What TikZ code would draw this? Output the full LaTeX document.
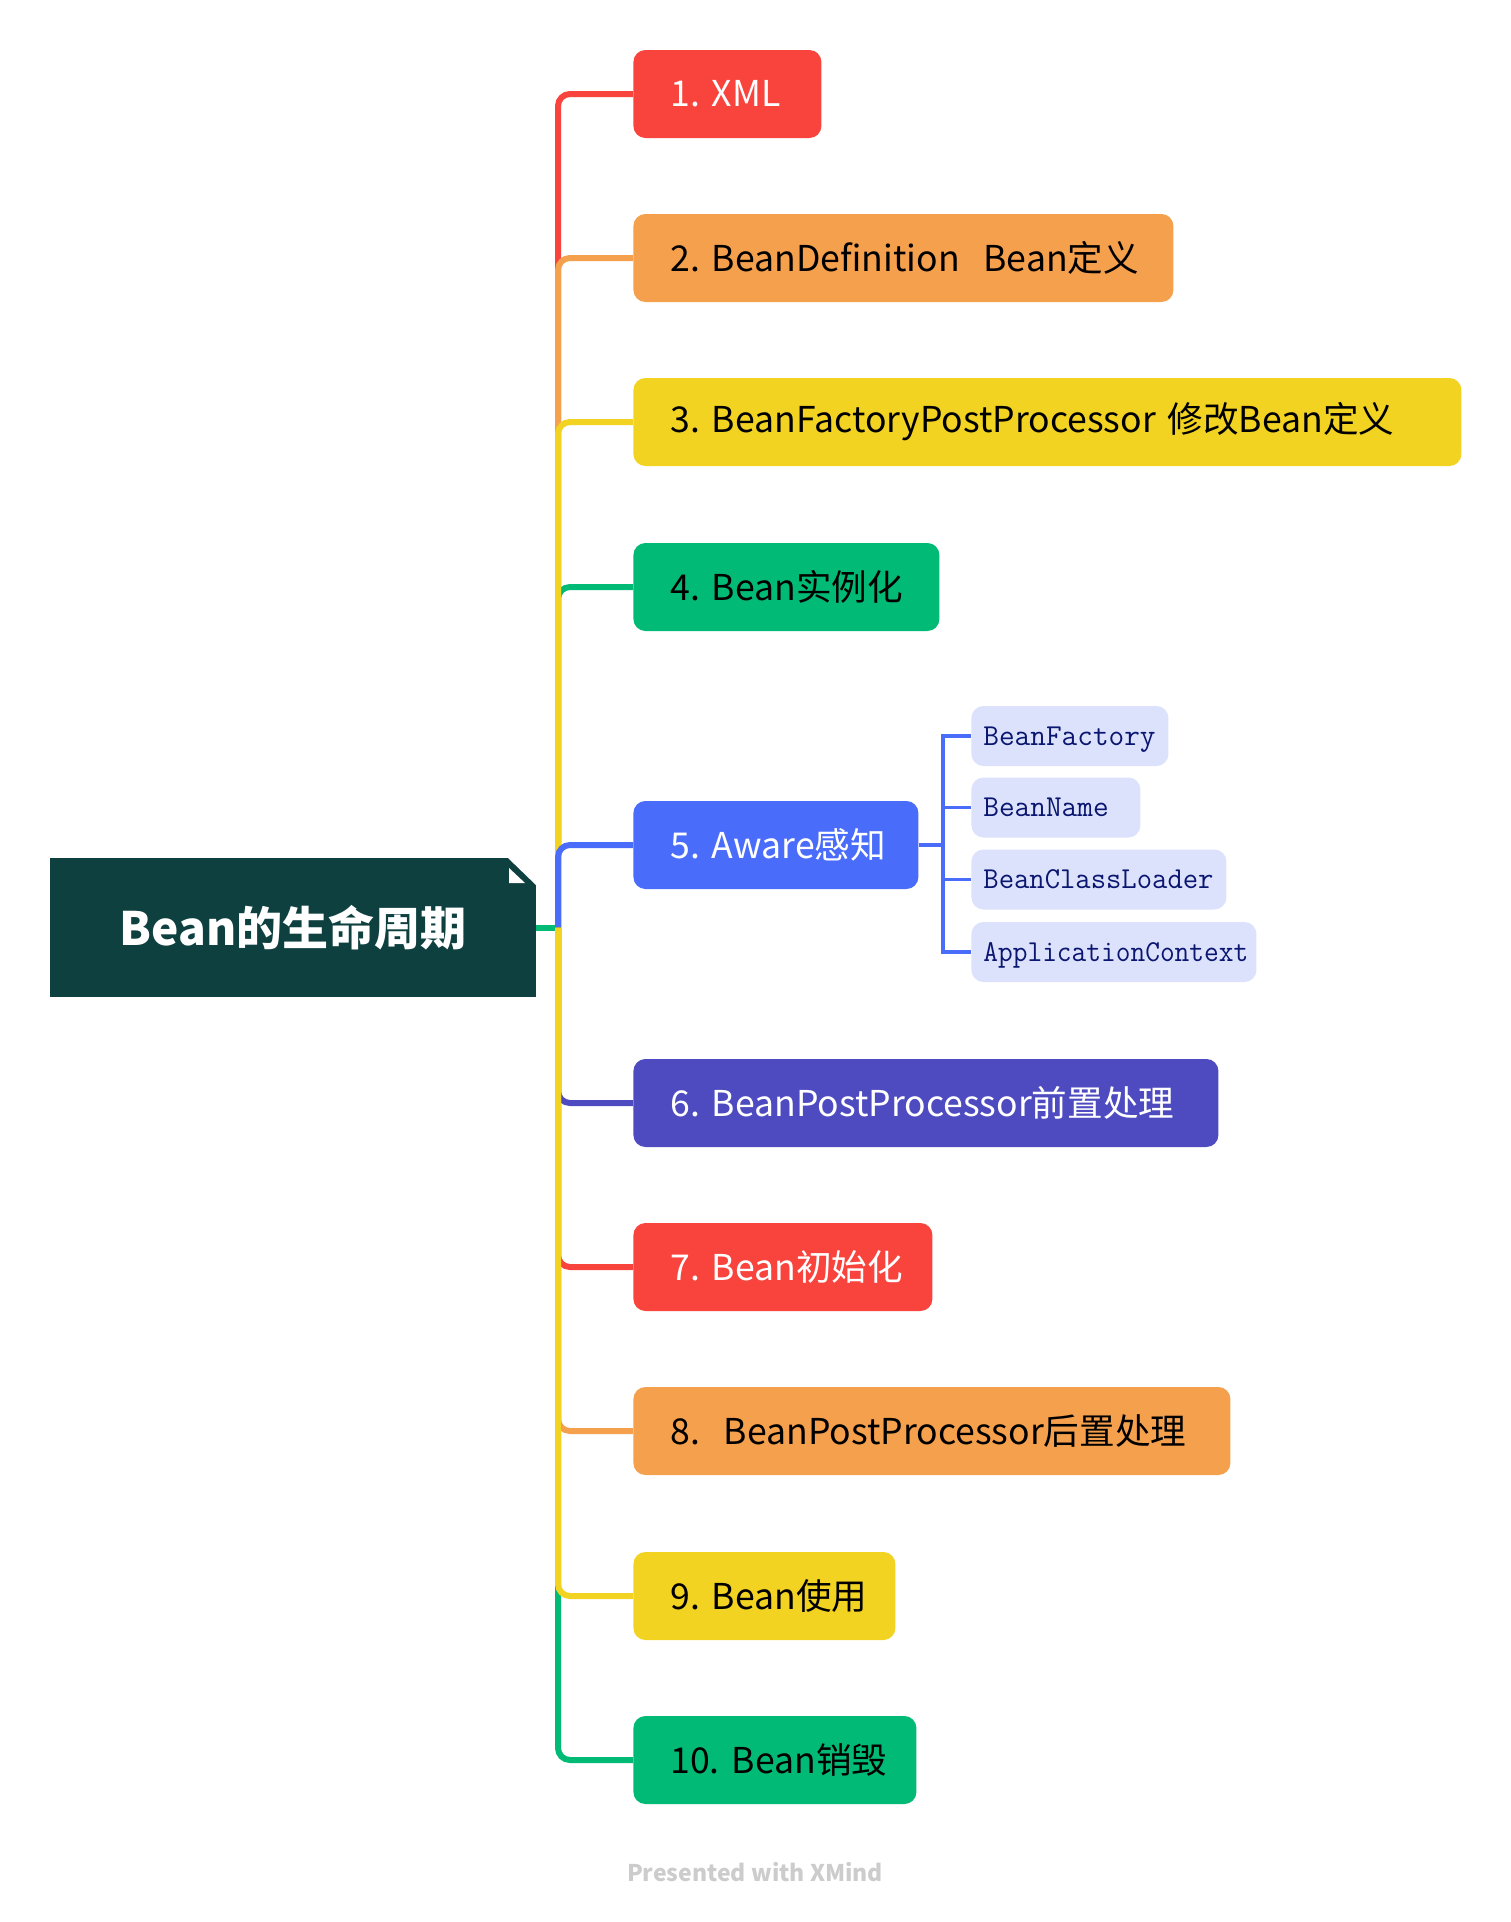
\documentclass[tikz,border=0pt]{standalone}
\usepackage{fontspec}
\setmainfont{Noto Sans CJK SC}
\frenchspacing
\definecolor{cred}{HTML}{F9443E}
\definecolor{corange}{HTML}{F5A04D}
\definecolor{cyellow}{HTML}{F2D321}
\definecolor{cgreen}{HTML}{00BA75}
\definecolor{cblue}{HTML}{4A6CFB}
\definecolor{cindigo}{HTML}{4E4BC1}
\definecolor{croot}{HTML}{0F4040}
\definecolor{subfill}{HTML}{DCE2FC}
\definecolor{subtext}{HTML}{0A1670}
\definecolor{footgray}{HTML}{CCCCCC}
\newcommand{\captext}[1]{\raisebox{0pt}[0.61em][0pt]{#1}}
\begin{document}
\frenchspacing
\begin{tikzpicture}[x=0.5pt,y=-0.5pt,
  childbox/.style={rectangle, rounded corners=6pt, anchor=west, minimum height=44pt,
    inner xsep=18.5pt, inner ysep=0pt, align=left, font=\fontsize{17.8}{21}\selectfont},
  subbox/.style={rectangle, rounded corners=6pt, anchor=west, minimum height=30pt,
    inner xsep=6pt, inner ysep=0pt, fill=subfill, text=subtext, align=left,
    font=\ttfamily\fontsize{15.2}{18}\selectfont\addfontfeatures{FakeBold=0.7}},
  branch/.style={line width=3pt, rounded corners=6pt},
  subbranch/.style={line width=1.7pt, draw=cblue}]
\useasboundingbox (0,0) rectangle (1510,1922);
% root
\node[rectangle, fill=croot, minimum width=243pt, minimum height=69.5pt, inner sep=0pt,
  text=white, font=\bfseries\fontsize{23}{27}\selectfont] (root) at (293,927.5) {Bean的生命周期};
\fill[white] (507,857) -- (537,857) -- (537,886) -- cycle;
\fill[white] (509,868) -- (509,883) -- (525,883) -- cycle;
% children
\node[childbox, fill=cred, text=white, text width=57pt] (n1) at (633,94) {\mbox{1. XML}};
\node[childbox, fill=corange, text=black, text width=233pt] (n2) at (633,258) {\mbox{2. BeanDefinition~~Bean定义}};
\node[childbox, fill=cyellow, text=black, text width=377pt] (n3) at (633,422) {\mbox{3. BeanFactoryPostProcessor 修改Bean定义}};
\node[childbox, fill=cgreen, text=black, text width=116pt] (n4) at (633,587) {\mbox{4. Bean实例化}};
\node[childbox, fill=cblue, text=white, text width=105.5pt] (n5) at (633,845) {\mbox{5. Aware感知}};
\node[childbox, fill=cindigo, text=white, text width=255.5pt] (n6) at (633,1103) {\mbox{6. BeanPostProcessor前置处理}};
\node[childbox, fill=cred, text=white, text width=112.5pt] (n7) at (633,1267) {\mbox{7. Bean初始化}};
\node[childbox, fill=corange, text=black, text width=261.5pt] (n8) at (633,1431) {\mbox{8.~~BeanPostProcessor后置处理}};
\node[childbox, fill=cyellow, text=black, text width=94pt] (n9) at (633,1596) {\mbox{9. Bean使用}};
\node[childbox, fill=cgreen, text=black, text width=104.5pt] (n10) at (633,1760) {\mbox{10. Bean销毁}};
% sub items
\node[subbox, text width=86.5pt] (s1) at (971,736) {\captext{BeanFactory}};
\node[subbox, text width=72.5pt] (s2) at (971,807.5) {\captext{BeanName}};
\node[subbox, text width=115.5pt] (s3) at (971,879.5) {\captext{\scalebox{0.98}[1]{BeanClassLoader}}};
\node[subbox, text width=130.5pt] (s4) at (971,952) {\captext{\scalebox{0.94}[1]{ApplicationContext}}};
% connectors
\coordinate (hub) at (558,927.5);
\draw[line width=3pt, cgreen] (root.east) -- (hub);
\draw[branch, cgreen] (hub) |- (n4.west);
\draw[branch, cred] (hub) |- (n1.west);
\draw[branch, corange] (hub) |- (n2.west);
\draw[branch, cyellow] (hub) |- (n3.west);
\draw[branch, cblue] (hub) |- (n5.west);
\draw[branch, cindigo] (hub) |- (n6.west);
\draw[branch, cred] (hub) |- (n7.west);
\draw[branch, corange] (hub) |- (n8.west);
\draw[branch, cgreen] (hub) |- (n10.west);
\draw[branch, cyellow] (hub) |- (n9.west);
\coordinate (sb) at (943,845);
\draw[subbranch] (n5.east) -- (sb);
\draw[subbranch] (sb) |- (s1.west);
\draw[subbranch] (sb) |- (s2.west);
\draw[subbranch] (sb) |- (s3.west);
\draw[subbranch] (sb) |- (s4.west);
% footer
\node[text=footgray, font=\bfseries\fontsize{11.5}{14}\selectfont] (foot) at (755,1872) {Presented with XMind};
\end{tikzpicture}
\end{document}
